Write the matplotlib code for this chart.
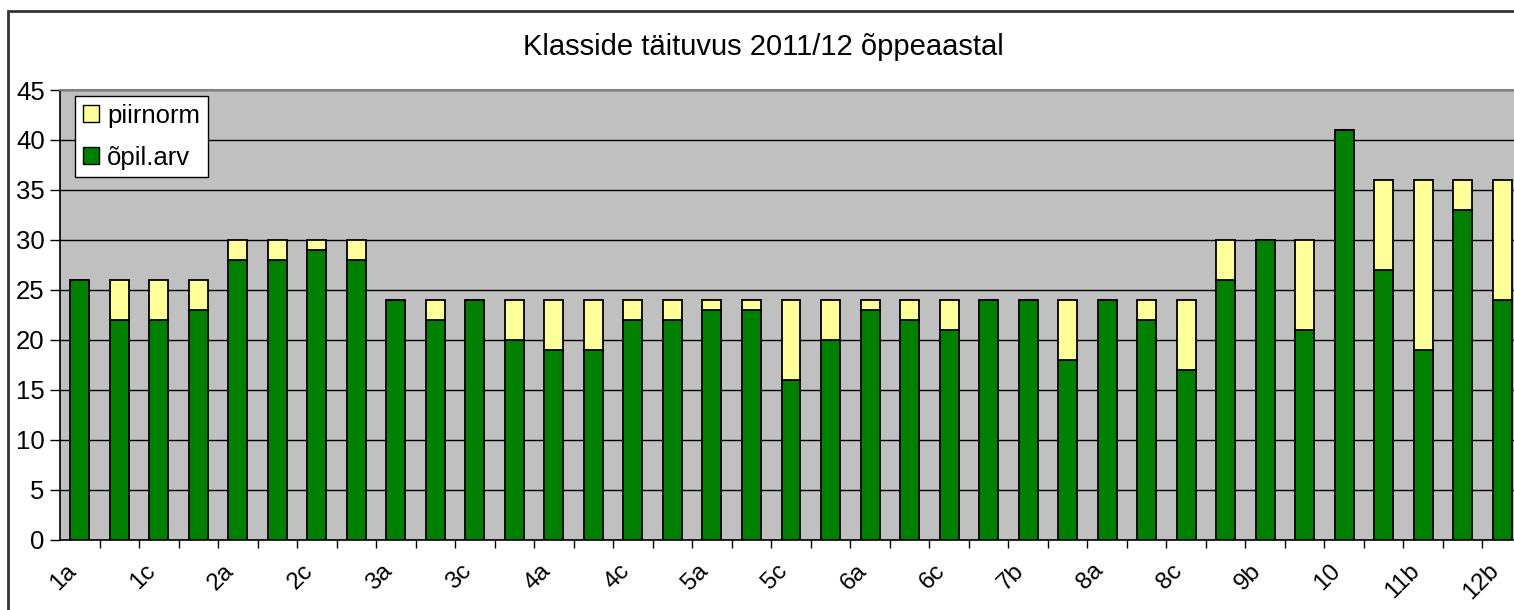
import matplotlib
matplotlib.use("Agg")
import matplotlib.pyplot as plt
import matplotlib.transforms as mtransforms
from matplotlib.patches import Patch, Rectangle
import numpy as np

plt.rcParams['font.family'] = ['Liberation Sans', 'DejaVu Sans']

# ── Data ────────────────────────────────────────────────────────────
classes = ["1a", "1b", "1c", "1d", "2a", "2b", "2c", "2d",
           "3a", "3b", "3c", "3d", "4a", "4b", "4c", "4d",
           "5a", "5b", "5c", "5d", "6a", "6b", "6c",
           "7a", "7b", "7c", "8a", "8b", "8c",
           "9a", "9b", "9c", "10", "11a", "11b", "12a", "12b"]
opil_arv = [26, 22, 22, 23, 28, 28, 29, 28,
            24, 22, 24, 20, 19, 19, 22, 22,
            23, 23, 16, 20, 23, 22, 21,
            24, 24, 18, 24, 22, 17,
            26, 30, 21, 41, 27, 19, 33, 24]
piirnorm = [26, 26, 26, 26, 30, 30, 30, 30,
            24, 24, 24, 24, 24, 24, 24, 24,
            24, 24, 24, 24, 24, 24, 24,
            24, 24, 24, 24, 24, 24,
            30, 30, 30, 41, 36, 36, 36, 36]

GREEN = '#008000'
YELLOW = '#FFFF99'

# ── Figure ──────────────────────────────────────────────────────────
W, H = 1514, 610
fig = plt.figure(figsize=(W / 100, H / 100), dpi=100)
ax = fig.add_axes([60 / W, (H - 539.5) / H, 1462 / W, (539.5 - 90) / H])
ax.set_facecolor('#C0C0C0')

x = np.arange(len(classes))
green = np.array(opil_arv)
extra = np.clip(np.array(piirnorm) - green, 0, None)

ax.bar(x, green, width=0.48, color=GREEN, edgecolor='black', linewidth=1.3, zorder=3)
ax.bar(x, extra, bottom=green, width=0.48, color=YELLOW, edgecolor='black',
       linewidth=1.3, zorder=3)

ax.set_xlim(-0.5, len(classes) - 0.5)
ax.set_ylim(0, 45)
ax.set_yticks(np.arange(0, 46, 5))
ax.yaxis.grid(True, color='black', linewidth=1.0, zorder=1)
ax.set_axisbelow(True)

# tick marks between categories, labels on every second class
ax.set_xticks(x[:-1] + 0.5)
ax.set_xticklabels([])
ax.set_xticks(x[::2], minor=True)
ax.set_xticklabels(classes[::2], minor=True, rotation=45, ha='right',
                   va='center', rotation_mode='anchor', fontsize=17.5)
ax.tick_params(axis='x', which='major', direction='out', length=6, width=1)
ax.tick_params(axis='x', which='minor', length=0, pad=20)
offset = mtransforms.ScaledTranslation(-7 / 100, 0, fig.dpi_scale_trans)
for lab in ax.get_xticklabels(minor=True):
    lab.set_transform(lab.get_transform() + offset)

ax.tick_params(axis='y', direction='out', length=7, width=1, labelsize=18.5, pad=4)

for s in ['left', 'bottom']:
    ax.spines[s].set_color('black')
    ax.spines[s].set_linewidth(1.2)
ax.spines['top'].set_color('#808080')
ax.spines['top'].set_linewidth(1.5)
ax.spines['right'].set_visible(False)

fig.text(0.5 + 6 / W, 1 - 47 / H, "Klasside täituvus 2011/12 õppeaastal",
         ha='center', va='center', fontsize=21)

handles = [Patch(facecolor=YELLOW, edgecolor='black', label='piirnorm'),
           Patch(facecolor=GREEN, edgecolor='black', label='õpil.arv')]
leg = ax.legend(handles=handles, loc='upper left',
                bbox_to_anchor=(15 / 1462, 1 - 6 / 449.5),
                fontsize=18.5, frameon=True, fancybox=False, framealpha=1,
                edgecolor='black', handlelength=0.65, handleheight=0.65,
                handletextpad=0.3, borderpad=0.3, labelspacing=0.7,
                borderaxespad=0)
leg.get_frame().set_linewidth(1.0)

# outer chart border
fig.patches.append(Rectangle((8 / W, -0.05), 1.1, 1 - 11 / H + 0.05,
                             transform=fig.transFigure, fill=False,
                             edgecolor='#333333', linewidth=2))

fig.savefig("out.png", dpi=100)
